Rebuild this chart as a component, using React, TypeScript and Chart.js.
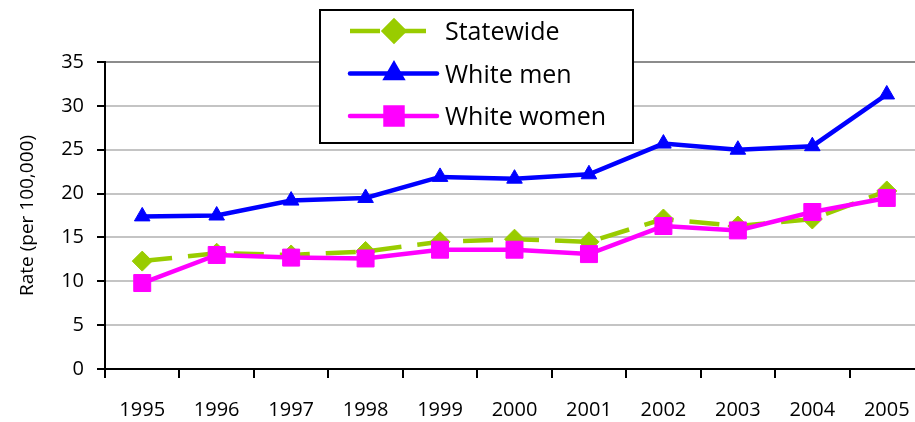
import React, { useEffect, useRef } from "react";
import { Chart, registerables } from "chart.js";
import { drawPoint } from "chart.js/helpers";

Chart.register(...registerables);

const years = ["1995", "1996", "1997", "1998", "1999", "2000", "2001", "2002", "2003", "2004", "2005"];
const statewide = [12.3, 13.2, 13.0, 13.4, 14.5, 14.8, 14.5, 17.1, 16.3, 17.1, 20.3];
const whiteMen = [17.4, 17.5, 19.2, 19.5, 21.9, 21.7, 22.2, 25.7, 25.0, 25.4, 31.3];
const whiteWomen = [9.8, 13.0, 12.7, 12.6, 13.6, 13.6, 13.1, 16.3, 15.8, 17.9, 19.5];
const yTicks = [0, 5, 10, 15, 20, 25, 30, 35];

const FONT = "'Open Sans', 'DejaVu Sans', sans-serif";

const LEG = { x: 320, y: 10, w: 313, h: 133, lineX0: 350, lineX1: 437, markX: 394, textX: 445, row0: 21, rowGap: 42.5 };

const boxLegend = {
  id: "boxLegend",
  afterDraw(chart: any) {
    const ctx = chart.ctx as CanvasRenderingContext2D;
    ctx.save();
    ctx.fillStyle = "#ffffff";
    ctx.fillRect(LEG.x, LEG.y, LEG.w, LEG.h);
    ctx.lineWidth = 2;
    ctx.strokeStyle = "#000000";
    ctx.setLineDash([]);
    ctx.strokeRect(LEG.x, LEG.y, LEG.w, LEG.h);
    chart.data.datasets.forEach((ds: any, i: number) => {
      const y = LEG.y + LEG.row0 + i * LEG.rowGap;
      ctx.save();
      ctx.strokeStyle = ds.borderColor;
      ctx.lineWidth = ds.borderWidth;
      ctx.lineCap = ds.borderDash ? "butt" : "round";
      ctx.setLineDash(ds.borderDash || []);
      ctx.beginPath();
      ctx.moveTo(LEG.lineX0, y);
      ctx.lineTo(LEG.lineX1, y);
      ctx.stroke();
      ctx.setLineDash([]);
      ctx.fillStyle = ds.pointBackgroundColor;
      ctx.strokeStyle = ds.pointBorderColor;
      drawPoint(ctx, { pointStyle: ds.pointStyle, radius: ds.pointRadius, borderWidth: 1, rotation: 0 } as any, LEG.markX, y);
      ctx.restore();
      ctx.fillStyle = "#000000";
      ctx.font = `25px ${FONT}`;
      ctx.textBaseline = "middle";
      ctx.textAlign = "left";
      ctx.fillText(ds.label, LEG.textX, y + 2);
    });
    ctx.restore();
  },
};

export default function App() {
  const ref = useRef<HTMLCanvasElement | null>(null);

  useEffect(() => {
    if (!ref.current) return;
    const chart = new Chart(ref.current, {
      type: "line",
      data: {
        labels: years,
        datasets: [
          {
            label: "Statewide",
            data: statewide,
            borderColor: "#99cc00",
            backgroundColor: "#99cc00",
            pointBackgroundColor: "#99cc00",
            pointBorderColor: "#99cc00",
            borderWidth: 4.5,
            borderDash: [30, 16],
            pointStyle: "rectRot",
            pointRadius: 10,
            pointBorderWidth: 1,
            tension: 0,
            order: 3,
          },
          {
            label: "White men",
            data: whiteMen,
            borderColor: "#0000ff",
            backgroundColor: "#0000ff",
            pointBackgroundColor: "#0000ff",
            pointBorderColor: "#0000ff",
            borderWidth: 4.5,
            pointStyle: "triangle",
            pointRadius: 9,
            pointBorderWidth: 1,
            tension: 0,
            order: 2,
          },
          {
            label: "White women",
            data: whiteWomen,
            borderColor: "#ff00ff",
            backgroundColor: "#ff00ff",
            pointBackgroundColor: "#ff00ff",
            pointBorderColor: "#ff00ff",
            borderWidth: 4.5,
            pointStyle: "rect",
            pointRadius: 12,
            pointBorderWidth: 1,
            tension: 0,
            order: 1,
          },
        ] as any,
      },
      options: {
        responsive: false,
        animation: false,
        layout: { padding: { top: 62, right: 2, left: 0, bottom: 0 } },
        plugins: { legend: { display: false }, tooltip: { enabled: false } },
        scales: {
          x: {
            type: "category",
            offset: true,
            grid: {
              offset: true,
              drawOnChartArea: false,
              drawTicks: true,
              tickLength: 9,
              tickWidth: 2,
              tickColor: "#000000",
              color: "#000000",
              lineWidth: 2,
            },
            border: { display: true, color: "#000000", width: 2 },
            ticks: {
              color: "#000000",
              font: { family: FONT, size: 20 },
              padding: 20,
              maxRotation: 0,
              autoSkip: false,
            },
            afterFit: (scale: any) => {
              scale.height = 53;
            },
          },
          y: {
            min: 0,
            max: 35,
            afterBuildTicks: (scale: any) => {
              scale.ticks = yTicks.map((v) => ({ value: v }));
            },
            grid: {
              drawTicks: true,
              tickLength: 8,
              tickWidth: 2,
              tickColor: "#000000",
              lineWidth: 2,
              color: (c: any) => (c.tick && c.tick.value === 35 ? "#8c8c8c" : c.tick && c.tick.value === 0 ? "#000000" : "#c4c4c4"),
            },
            border: { display: true, color: "#000000", width: 2 },
            ticks: {
              color: "#000000",
              font: { family: FONT, size: 20 },
              padding: 13,
            },
            title: {
              display: true,
              text: "Rate (per 100,000)",
              color: "#000000",
              font: { family: FONT, size: 19 },
              padding: { top: 16, bottom: 0 },
            },
            afterFit: (scale: any) => {
              scale.width = 105;
            },
          },
        },
      } as any,
      plugins: [boxLegend],
    });
    return () => chart.destroy();
  }, []);

  return (
    <div style={{ position: "fixed", left: 0, top: 0, width: 937, height: 422, background: "#ffffff" }}>
      <canvas ref={ref} width={937} height={422} style={{ display: "block" }} />
    </div>
  );
}
